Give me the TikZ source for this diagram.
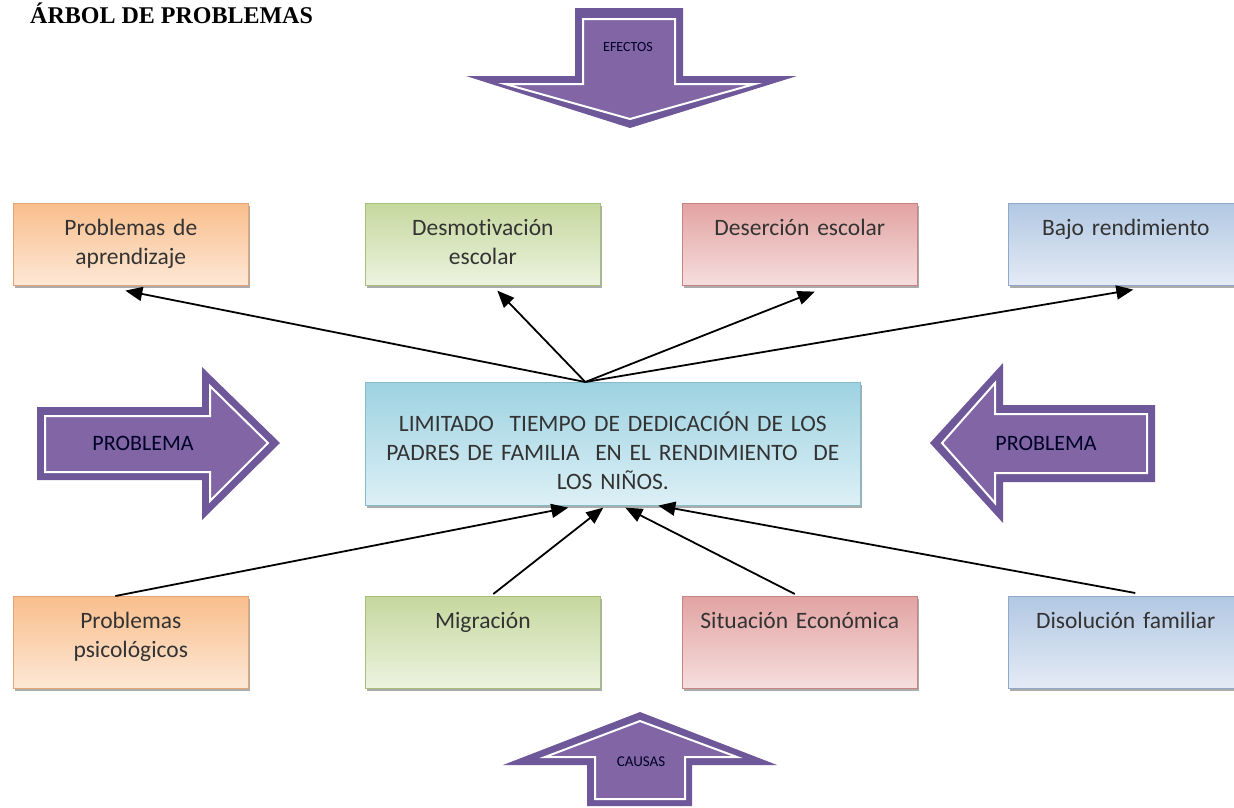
\documentclass[tikz,border=0pt]{standalone}
\usepackage{fontspec}
\setmainfont{Carlito}[Ligatures={NoCommon}]
\newfontfamily\serifbold{Liberation Serif}
\usetikzlibrary{arrows.meta,shadows}
\definecolor{purpOut}{HTML}{6F5899}
\definecolor{purpIn}{HTML}{8165A5}
\definecolor{orA}{HTML}{F9BE8C}\definecolor{orB}{HTML}{FDE8D6}\definecolor{orD}{HTML}{E6A474}
\definecolor{grA}{HTML}{C5D89E}\definecolor{grB}{HTML}{EDF3E0}\definecolor{grD}{HTML}{A7BF7B}
\definecolor{rdA}{HTML}{E2A3A2}\definecolor{rdB}{HTML}{F6DEDE}\definecolor{rdD}{HTML}{C78483}
\definecolor{blA}{HTML}{B2C8E3}\definecolor{blB}{HTML}{E4EBF5}\definecolor{blD}{HTML}{8FA8CB}
\definecolor{cyA}{HTML}{9DD2E1}\definecolor{cyB}{HTML}{DDF0F6}\definecolor{cyD}{HTML}{84BBCA}
\definecolor{txt}{HTML}{333333}
\begin{document}
\begin{tikzpicture}[x=1pt,y=-1pt,
  box/.style={rectangle, anchor=north west, inner xsep=0pt, inner ysep=0pt,
    text width=235pt, minimum width=235pt, align=center, line width=0.6pt,
    text=txt, font=\fontsize{23.5}{29}\selectfont,
    drop shadow={shadow xshift=2pt, shadow yshift=-3pt, fill=black!55, opacity=0.6}},
  toprow/.style={box, text height=32pt, text depth=50pt},
  botrow/.style={box, text height=32pt, text depth=60pt},
  orbox/.style={top color=orA, bottom color=orB, draw=orD},
  grbox/.style={top color=grA, bottom color=grB, draw=grD},
  rdbox/.style={top color=rdA, bottom color=rdB, draw=rdD},
  blbox/.style={top color=blA, bottom color=blB, draw=blD},
  blockout/.style={fill=purpOut},
  blockin/.style={fill=purpIn, draw=white, line width=2pt, line join=miter},
  blocklabel/.style={text=black!85!blue, inner sep=0pt},
  conn/.style={line width=1.8pt, -{Triangle[length=17pt,width=14pt]}}
]
\useasboundingbox (0,0) rectangle (1234,807);
\clip (0,0) rectangle (1234,807);

% title
\node[anchor=base west, inner sep=0pt, font=\serifbold\bfseries\fontsize{24}{24}\selectfont] (title) at (30,23) {ÁRBOL DE PROBLEMAS};

% EFECTOS block arrow
\fill[blockout] (575,8)--(683,8)--(683,76)--(797,76)--(630,128)--(466,76)--(575,76)--cycle;
\filldraw[blockin] (583,19)--(675,19)--(675,84)--(755,84)--(630,119)--(505,84)--(583,84)--cycle;
\node[blocklabel, font=\fontsize{14}{14}\selectfont] (efectos) at (628,47) {EFECTOS};

% PROBLEMA left
\fill[blockout] (37,407)--(202,407)--(202,367)--(280,443)--(202,520)--(202,480)--(37,480)--cycle;
\filldraw[blockin] (45,416)--(210,416)--(210,386)--(268,443)--(210,501)--(210,472)--(45,472)--cycle;
\node[blocklabel, font=\fontsize{22}{22}\selectfont] (probL) at (143,443) {PROBLEMA};

% PROBLEMA right
\fill[blockout] (1155,405)--(1003,405)--(1003,363)--(930,443)--(1003,523)--(1003,482)--(1155,482)--cycle;
\filldraw[blockin] (1147,414)--(995,414)--(995,383)--(942,443)--(995,503)--(995,473)--(1147,473)--cycle;
\node[blocklabel, font=\fontsize{22}{22}\selectfont] (probR) at (1046,443) {PROBLEMA};

% CAUSAS block arrow
\fill[blockout] (587,806)--(587,765)--(503,765)--(640,712)--(777,765)--(692,765)--(692,806)--cycle;
\filldraw[blockin] (595,799)--(595,757)--(545,757)--(640,721)--(737,757)--(685,757)--(685,799)--cycle;
\node[blocklabel, font=\fontsize{15}{15}\selectfont] (causas) at (641,762) {CAUSAS};

% effect boxes
\node[toprow, orbox] (t1) at (13,203) {Problemas de\\aprendizaje};
\node[toprow, grbox] (t2) at (365,203) {Desmotivación\\escolar};
\node[toprow, rdbox] (t3) at (682,203) {Deserción escolar};
\node[toprow, blbox] (t4) at (1008,203) {Bajo rendimiento};

% cause boxes
\node[botrow, orbox] (b1) at (13,596) {Problemas\\psicológicos};
\node[botrow, grbox] (b2) at (365,596) {Migración};
\node[botrow, rdbox] (b3) at (682,596) {Situación Económica};
\node[botrow, blbox] (b4) at (1008,596) {Disolución familiar};

% central problem
\node[box, text width=495pt, minimum width=495pt, text height=49pt, text depth=74pt,
      top color=cyA, bottom color=cyB, draw=cyD] (c) at (365,382)
  {LIMITADO\ \ TIEMPO DE DEDICACIÓN DE LOS\\PADRES DE FAMILIA\ \ EN EL RENDIMIENTO\ \ DE\\LOS NIÑOS.};

% connectors to effects
\draw[conn] ([xshift=-27.5pt]c.north) -- ([xshift=-5.5pt,yshift=-5pt]t1.south);
\draw[conn] ([xshift=-27.5pt]c.north) -- ([xshift=14.5pt,yshift=-5pt]t2.south);
\draw[conn] ([xshift=-27.5pt]c.north) -- ([xshift=15pt,yshift=-6pt]t3.south);
\draw[conn] ([xshift=-27.5pt]c.north) -- ([xshift=7.5pt,yshift=-4pt]t4.south);

% connectors from causes
\draw[conn] ([xshift=-15.5pt]b1.north) -- ([xshift=-44.5pt,yshift=-2pt]c.south);
\draw[conn] ([xshift=10.5pt,yshift=2pt]b2.north) -- ([xshift=-9.5pt,yshift=-2pt]c.south);
\draw[conn] ([xshift=-5pt,yshift=2pt]b3.north) -- ([xshift=12.5pt,yshift=-2pt]c.south);
\draw[conn] ([xshift=9.5pt,yshift=3pt]b4.north) -- ([xshift=45.5pt,yshift=0pt]c.south);
\end{tikzpicture}
\end{document}
